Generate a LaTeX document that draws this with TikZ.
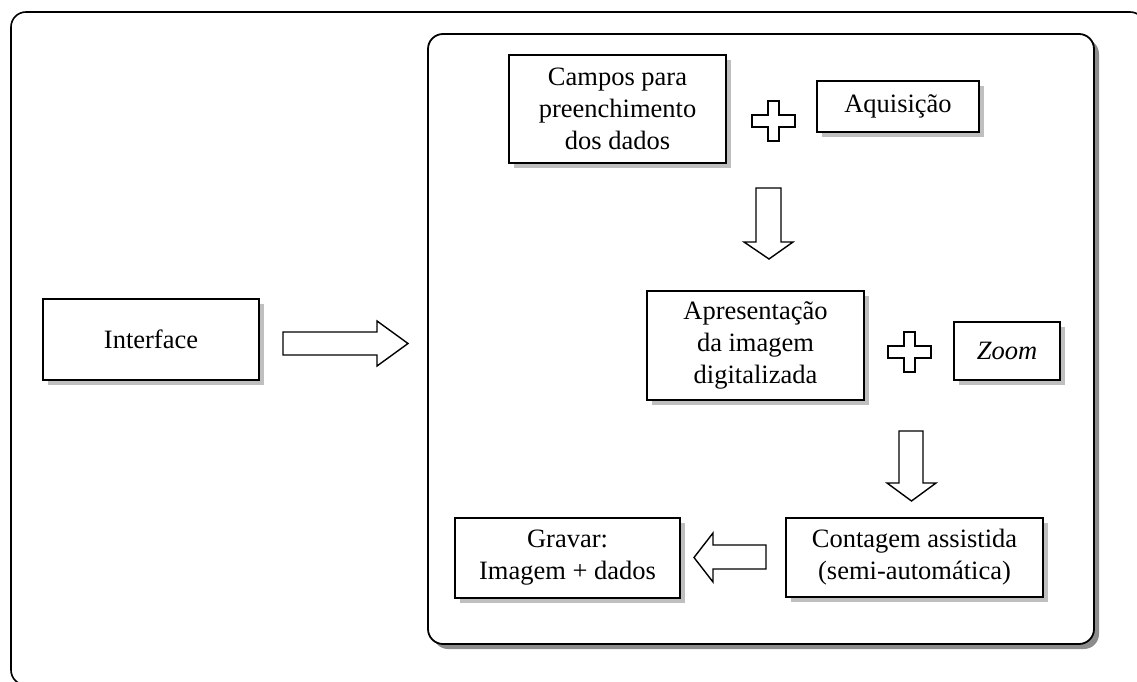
\documentclass[tikz,border=0pt]{standalone}
\usepackage{fontspec}
\setmainfont{Liberation Serif}
\usetikzlibrary{shadows}
\begin{document}
\begin{tikzpicture}[x=1pt,y=-1pt,
  box/.style={draw, line width=1.6pt, fill=white, inner sep=0pt, align=center,
    font=\fontsize{26.5}{32}\selectfont,
    drop shadow={shadow xshift=5pt, shadow yshift=-5pt, fill=black!25, opacity=1}},
  blk/.style={draw, line width=1.4pt, fill=white, line join=miter},
  pics/plusshape/.style={code={
    \draw[blk] (-5.5,-20) -- (5.5,-20) -- (5.5,-6) -- (21.5,-6) -- (21.5,6) -- (5.5,6)
      -- (5.5,20) -- (-5.5,20) -- (-5.5,6) -- (-21.5,6) -- (-21.5,-6) -- (-5.5,-6) -- cycle;
  }}
]
\useasboundingbox (0,0) rectangle (1137,682);
\clip (0,0) rectangle (1137,682);
% outer frame
\draw[line width=1.6pt, rounded corners=15pt] (11,12) rectangle (1145,685);
% inner frame with shadow
\fill[black!45, rounded corners=15pt] (433,39) rectangle (1099,649);
\draw[line width=1.8pt, fill=white, rounded corners=15pt] (428,34) rectangle (1094,644);

% boxes
\node[box, minimum width=216pt, minimum height=81pt] (iface) at (151,339.5) {Interface};
\node[box, minimum width=217pt, minimum height=108pt] (campos) at (617.5,109) {Campos para\\preenchimento\\dos dados};
\node[box, minimum width=162pt, minimum height=51pt] (aquis) at (898,106.5) {Aquisição};
\node[box, minimum width=217pt, minimum height=109pt] (apres) at (755.5,345.5) {Apresentação\\da imagem\\digitalizada};
\node[box, minimum width=106pt, minimum height=58pt] (zoom) at (1007,351) {\itshape Zoom};
\node[box, minimum width=257pt, minimum height=79pt] (conta) at (914.5,557.5) {Contagem assistida\\(semi-automática)};
\node[box, minimum width=225pt, minimum height=80pt] (grav) at (567.5,558) {Gravar:\\Imagem + dados};

% plus signs
\pic at (773.5,121) {plusshape};
\pic at (909.5,352) {plusshape};

% block arrows
\draw[blk] (283,332) -- (377,332) -- (377,321) -- (408,343.5) -- (377,366) -- (377,355) -- (283,355) -- cycle;
\draw[blk] (756,188) -- (781,188) -- (781,242) -- (793,242) -- (769,259) -- (744,242) -- (756,242) -- cycle;
\draw[blk] (899,431) -- (923,431) -- (923,483) -- (936,483) -- (911.5,501) -- (887,483) -- (899,483) -- cycle;
\draw[blk] (766,545) -- (713,545) -- (713,533) -- (694,557.5) -- (713,582) -- (713,569) -- (766,569) -- cycle;
\end{tikzpicture}
\end{document}
